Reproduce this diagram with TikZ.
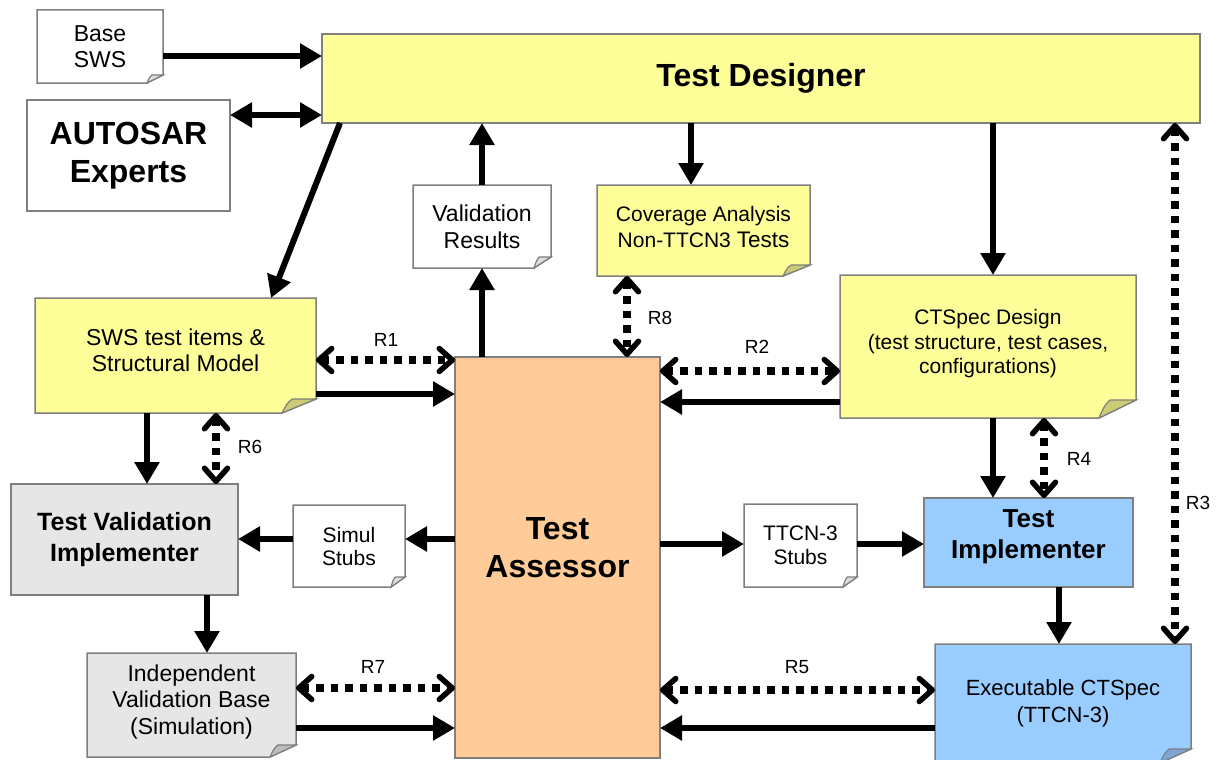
\documentclass[tikz,border=0pt]{standalone}
\usepackage{fontspec}
\setmainfont{Liberation Sans}
\usetikzlibrary{arrows.meta,calc,backgrounds}
\definecolor{bgray}{HTML}{7F7F7F}
\definecolor{yel}{HTML}{FFFF99}
\definecolor{yelF}{HTML}{CCCC77}
\definecolor{peach}{HTML}{FFCC99}
\definecolor{blu}{HTML}{99CCFF}
\definecolor{bluF}{HTML}{7FA6D6}
\definecolor{gry}{HTML}{E6E6E6}
\definecolor{gryF}{HTML}{BDBDBD}
\definecolor{whtF}{HTML}{DDDDDD}
\newcommand\fs[2]{\fontsize{#1}{#2}\selectfont}
% #1 node, #2 fill, #3 fold fill, #4 fold width, #5 fold height
\newcommand\drawnote[5]{%
  \begin{scope}[on background layer]
    \draw[noteline,fill=#2] (#1.north west) -- (#1.north east) -- ($(#1.south east)+(0,-#5)$)
      -- ($(#1.south east)+(-#4,0)$) -- (#1.south west) -- cycle;
    \draw[noteline,fill=#3,line width=1.2pt] ($(#1.south east)+(-#4,0)$)
      .. controls ($(#1.south east)+(-0.85*#4,-0.7*#5)$) .. ($(#1.south east)+(-0.7*#4,-#5)$)
      -- ($(#1.south east)+(0,-#5)$) -- cycle;
  \end{scope}}
\begin{document}
\begin{tikzpicture}[x=1pt,y=-1pt,
  box/.style={draw=bgray,line width=1.5pt,outer sep=0pt,inner sep=0pt,align=center},
  notebox/.style={outer sep=0pt,inner sep=0pt,align=center},
  noteline/.style={draw=bgray,line width=1.5pt,line join=miter},
  arr/.style={line width=6pt,-{Triangle[length=22pt,width=24pt]}},
  darr/.style={line width=6pt,{Triangle[length=22pt,width=24pt]}-{Triangle[length=22pt,width=24pt]}},
  dotarr/.style={line width=7.5pt,dash pattern=on 7.5pt off 7pt,
    {Straight Barb[length=13pt,width=23pt,line width=5.5pt,round]}-{Straight Barb[length=13pt,width=23pt,line width=5.5pt,round]}},
  rlab/.style={font=\fs{19}{22}},
  big/.style={font=\fs{32}{38}\bfseries},
  mid/.style={font=\fs{25}{31}\bfseries}]
\useasboundingbox (0,0) rectangle (1218,760);

% ---- boxes ----
\node[box,fill=yel,big,minimum width=878pt,minimum height=89pt] (td) at (761,78.5) {Test Designer};
\node[box,big,minimum width=203pt,minimum height=111pt] (as) at (128.5,155.5) {AUTOSAR\\Experts};
\node[box,fill=peach,minimum width=205pt,minimum height=401pt,
  label={[big,align=center,yshift=9.5pt]center:{Test\\Assessor}}] (ta) at (557.5,557.5) {};
\node[box,fill=gry,mid,minimum width=227pt,minimum height=111pt] (tvi) at (124.5,539.5) {Test Validation\\Implementer};
\node[box,fill=blu,minimum width=209pt,minimum height=89pt,
  label={[font=\fs{26}{31}\bfseries,align=center,yshift=5.5pt]center:{Test\\Implementer}}] (ti) at (1028.5,542.5) {};

% ---- notes ----
\node[notebox,font=\fs{23}{26},minimum width=126pt,minimum height=73pt] (base) at (100,46.5) {Base\\SWS};
\drawnote{base}{white}{whtF}{16}{8}
\node[notebox,font=\fs{23}{27},minimum width=138pt,minimum height=83pt] (va) at (482,226.5) {Validation\\Results};
\drawnote{va}{white}{whtF}{17}{11}
\node[notebox,minimum width=213pt,minimum height=91pt,
  label={[font=\fs{21}{26},align=center,yshift=4pt]center:{Coverage Analysis\\Non-TTCN3 {\fs{22.5}{26}Tests}}}] (cov) at (703.5,230.5) {};
\drawnote{cov}{yel}{yelF}{27}{11}
\node[notebox,minimum width=296pt,minimum height=143pt,
  label={[font=\fs{21}{24.5},align=center,yshift=2.5pt]center:{CTSpec Design\\(test structure, test cases,\\configurations)}}] (ct) at (988,346.5) {};
\drawnote{ct}{yel}{yelF}{37}{18}
\node[notebox,minimum width=281pt,minimum height=115pt,
  label={[font=\fs{23}{26},align=center,yshift=5.5pt]center:{SWS test items \&\\Structural Model}}] (sws) at (175.5,355.5) {};
\drawnote{sws}{yel}{yelF}{34}{14}
\node[notebox,font=\fs{21}{23},minimum width=112pt,minimum height=82pt] (sim) at (349,546) {Simul\\Stubs};
\drawnote{sim}{white}{whtF}{14}{10}
\node[notebox,font=\fs{21}{24},minimum width=113pt,minimum height=83pt] (tts) at (800.5,545.5) {TTCN-3\\Stubs};
\drawnote{tts}{white}{whtF}{14}{10}
\node[notebox,minimum width=209pt,minimum height=104pt,
  label={[font=\fs{23}{26.5},align=center,yshift=3pt]center:{Independent\\Validation Base\\(Simulation)}}] (ivb) at (191.5,705) {};
\drawnote{ivb}{gry}{gryF}{26}{12}
\node[notebox,minimum width=256pt,minimum height=119pt,
  label={[font=\fs{22}{27},align=center]center:{Executable CTSpec\\(TTCN-3)}}] (ex) at (1063,703.5) {};
\drawnote{ex}{blu}{bluF}{31}{14}

% ---- solid connectors ----
\draw[arr] (base.east |- 0,56) -- (td.west |- 0,56);
\draw[darr] (as.east |- 0,115) -- (td.west |- 0,115);
\draw[arr] (td.south -| 340,0) -- (sws.north -| 271,0);
\draw[arr] (va.north) -- (va.north |- td.south);
\draw[arr] (ta.north -| va.south) -- (va.south);
\draw[arr] (td.south -| 691,0) -- (cov.north -| 691,0);
\draw[arr] (td.south -| 993,0) -- (ct.north -| 993,0);
\draw[arr] (ct.west |- 0,402) -- (ta.east |- 0,402);
\draw[arr] (sws.east |- 0,394) -- (ta.west |- 0,394);
\draw[arr] (sws.south -| 147,0) -- (tvi.north -| 147,0);
\draw[arr] (ta.west |- 0,539) -- (sim.east |- 0,539);
\draw[arr] (sim.west |- 0,539) -- (tvi.east |- 0,539);
\draw[arr] (tvi.south -| 207,0) -- (ivb.north -| 207,0);
\draw[arr] (ivb.east |- 0,728) -- (ta.west |- 0,728);
\draw[arr] (ta.east |- 0,544) -- (tts.west |- 0,544);
\draw[arr] (tts.east |- 0,544) -- (ti.west |- 0,544);
\draw[arr] (ct.south -| 993,0) -- (ti.north -| 993,0);
\draw[arr] (ti.south -| 1059,0) -- (ex.north -| 1059,0);
\draw[arr] (ex.west |- 0,728) -- (ta.east |- 0,728);

% ---- dotted relations ----
\draw[dotarr] (sws.east |- 0,360) -- (ta.west |- 0,360);
\node[rlab] (r1) at (386,340) {R1};
\draw[dotarr] (ta.east |- 0,371) -- (ct.west |- 0,371);
\node[rlab] (r2) at (757,347) {R2};
\draw[dotarr] (td.south -| 1175,0) -- (ex.north -| 1175,0);
\node[rlab] (r3) at (1198,503) {R3};
\draw[dotarr] (ct.south -| 1044,0) -- (ti.north -| 1044,0);
\node[rlab] (r4) at (1079,459) {R4};
\draw[dotarr] (ta.east |- 0,690) -- (ex.west |- 0,690);
\node[rlab] (r5) at (797,667) {R5};
\draw[dotarr] (sws.south -| 216,0) -- (tvi.north -| 216,0);
\node[rlab] (r6) at (250,447) {R6};
\draw[dotarr] (ivb.east |- 0,688) -- (ta.west |- 0,688);
\node[rlab] (r7) at (373,667) {R7};
\draw[dotarr] (cov.south -| 627,0) -- (ta.north -| 627,0);
\node[rlab] (r8) at (660,318) {R8};
\end{tikzpicture}
\end{document}
